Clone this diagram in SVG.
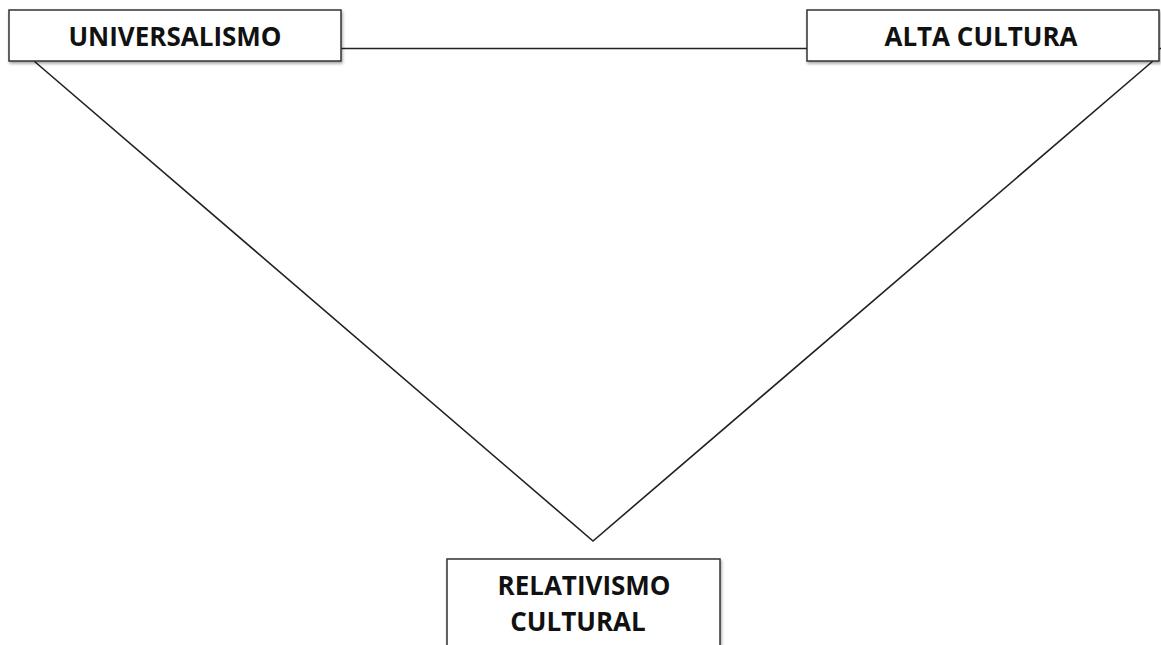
<svg xmlns="http://www.w3.org/2000/svg" width="1161" height="645" viewBox="0 0 1161 645">
<defs>
<style>
.box{fill:#fff;stroke:#333;stroke-width:1.5;filter:url(#sh)}
.lbl{font-family:"Open Sans","Liberation Sans",sans-serif;font-weight:bold;font-size:26px;fill:#111;text-anchor:middle}
.con{stroke:#222;stroke-width:1.6;fill:none}
</style>
<filter id="sh" x="-5%" y="-20%" width="110%" height="150%">
<feDropShadow dx="1" dy="2" stdDeviation="1.5" flood-color="#000" flood-opacity="0.35"/>
</filter>
</defs>
<rect width="1161" height="645" fill="#fff"/>
<g id="connectors">
<line class="con" x1="341" y1="48.5" x2="1161" y2="48.5"/>
<polyline class="con" points="34,61 593,541 1153,61"/>
</g>
<g id="universalismo">
<rect class="box" x="9" y="10" width="332" height="51"/>
<text class="lbl" x="175" y="46">UNIVERSALISMO</text>
</g>
<g id="alta-cultura">
<rect class="box" x="807" y="10" width="352" height="51"/>
<text class="lbl" x="981" y="46">ALTA CULTURA</text>
</g>
<g id="relativismo-cultural">
<rect class="box" x="447" y="559" width="273" height="100"/>
<text class="lbl" x="584" y="595">RELATIVISMO</text>
<text class="lbl" x="578" y="631">CULTURAL</text>
</g>
</svg>
